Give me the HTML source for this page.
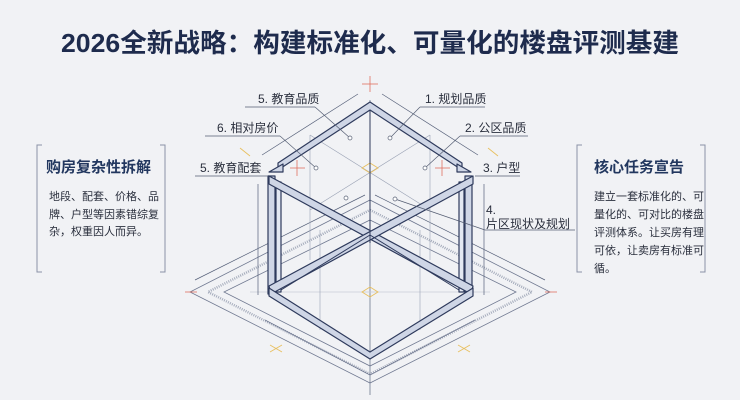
<!DOCTYPE html>
<html><head><meta charset="utf-8"><style>
body{margin:0;width:740px;height:400px;overflow:hidden;background:#f1f2f5;font-family:"Liberation Sans","Noto Sans CJK SC",sans-serif;}
</style></head><body>
<svg width="740" height="400" viewBox="0 0 740 400" xmlns="http://www.w3.org/2000/svg" style="position:absolute;left:0;top:0">
<rect width="740" height="400" fill="#f1f2f5"/>
<text x="370" y="52" text-anchor="middle" font-family="Liberation Sans, Noto Sans CJK SC, sans-serif" font-size="26" font-weight="bold" fill="#1e2b4d" textLength="618" lengthAdjust="spacingAndGlyphs">2026全新战略：构建标准化、可量化的楼盘评测基建</text>

<!-- ground diamonds -->
<g fill="none" stroke="#6f7890" stroke-width="0.8">
<polygon points="370,200 550,292 370,383 190,292"/>
<polygon points="370,210 532,292 370,374 208,292" stroke-dasharray="1 1.2" stroke-width="2.5" stroke="#a4abbb"/>
<polygon points="370,220 516,292 370,366 224,292"/>
<line x1="370" y1="100" x2="370" y2="395"/>
<line x1="250" y1="292" x2="490" y2="292" stroke="#c8ccd6"/>
<line x1="265" y1="320" x2="370" y2="375"/>
<line x1="475" y1="320" x2="370" y2="375"/>
</g>
<!-- dimension lines -->
<g stroke="#566079" stroke-width="0.7" fill="none">
<line x1="262" y1="155" x2="358" y2="94"/>
<line x1="382" y1="94" x2="478" y2="155"/>
<line x1="258" y1="184" x2="258" y2="295"/>
<line x1="484" y1="184" x2="484" y2="295"/>
<line x1="195" y1="280" x2="365" y2="195"/>
<line x1="545" y1="280" x2="375" y2="195"/>
</g>
<!-- thin construction lines -->
<g stroke="#9aa2b4" stroke-width="0.6" fill="none">
<line x1="310" y1="135" x2="430" y2="210"/>
<line x1="430" y1="135" x2="310" y2="210"/>
<line x1="310" y1="135" x2="310" y2="260"/>
<line x1="430" y1="135" x2="430" y2="260"/>
<line x1="320" y1="330" x2="320" y2="230"/>
<line x1="420" y1="330" x2="420" y2="230"/>
</g>
<!-- red/yellow markers -->
<g stroke="#e07060" stroke-width="0.8">
<line x1="370" y1="76" x2="370" y2="92"/><line x1="362" y1="84" x2="378" y2="84"/>
<line x1="290" y1="168" x2="305" y2="168"/><line x1="297" y1="160" x2="297" y2="176"/>
<line x1="435" y1="168" x2="450" y2="168"/><line x1="442" y1="160" x2="442" y2="176"/>
<line x1="185" y1="292" x2="197" y2="292"/><line x1="545" y1="292" x2="557" y2="292"/>
</g>
<g stroke="#e8c060" stroke-width="0.9">
<line x1="270" y1="345" x2="282" y2="352"/><line x1="270" y1="352" x2="282" y2="345"/>
<line x1="458" y1="345" x2="470" y2="352"/><line x1="458" y1="352" x2="470" y2="345"/>
<line x1="240" y1="148" x2="250" y2="156"/><line x1="488" y1="148" x2="498" y2="156"/>
<polygon points="370,163 378,168 370,173 362,168" fill="none"/>
<polygon points="370,287 378,292 370,297 362,292" fill="none"/>
</g>

<!-- cube frame -->
<g stroke="#2e3a5c" stroke-width="1.2" fill="#cfd6e6" stroke-linejoin="round">
<polygon points="370,102 278,163 278,170 370,110 462,170 462,163"/>
<rect x="268" y="176" width="7" height="118"/>
<rect x="465" y="176" width="7" height="118"/>
<rect x="276" y="182" width="5" height="110" fill="#e3e8f2"/>
<rect x="459" y="182" width="5" height="110" fill="#e3e8f2"/>
<polygon points="269,176 269,184 471,294 473,286"/>
<polygon points="473,176 473,184 271,294 269,286"/>
<polygon points="269,288 370,352 473,288 473,296 370,359 269,296"/>
<polygon points="269,172 283,172 283,164 269,172"/>
<polygon points="471,172 457,172 457,164 471,172"/>
</g>
<g stroke="#2e3a5c" stroke-width="1" fill="none">
<line x1="370" y1="110" x2="370" y2="243"/>
<line x1="281" y1="290" x2="370" y2="235" />
<line x1="459" y1="290" x2="370" y2="235" />
</g>

<!-- leader lines & dots -->
<g stroke="#555e73" stroke-width="0.7" fill="#fff">
<line x1="245" y1="107" x2="315" y2="107"/><line x1="315" y1="107" x2="350" y2="138"/>
<line x1="420" y1="107" x2="485" y2="107"/><line x1="420" y1="107" x2="390" y2="138"/>
<line x1="205" y1="136" x2="280" y2="136"/><line x1="280" y1="136" x2="316" y2="168"/>
<line x1="460" y1="136" x2="528" y2="136"/><line x1="460" y1="136" x2="425" y2="168"/>
<line x1="195" y1="176" x2="268" y2="176"/>
<line x1="475" y1="176" x2="520" y2="176"/>
<line x1="395" y1="199" x2="485" y2="230"/><line x1="485" y1="230" x2="575" y2="230"/>
<circle cx="350" cy="138" r="2"/><circle cx="390" cy="138" r="2"/>
<circle cx="316" cy="168" r="2"/><circle cx="425" cy="168" r="2"/>
<circle cx="346" cy="198" r="2"/><circle cx="395" cy="199" r="2"/>
</g>
<g font-family="Liberation Sans, Noto Sans CJK SC, sans-serif" font-size="12" fill="#2a2f3d">
<text x="258" y="103">5. 教育品质</text>
<text x="425" y="103">1. 规划品质</text>
<text x="217" y="132">6. 相对房价</text>
<text x="465" y="132">2. 公区品质</text>
<text x="200" y="172">5. 教育配套</text>
<text x="483" y="172">3. 户型</text>
<text x="486" y="214">4.</text>
<text x="486" y="228">片区现状及规划</text>
</g>

<g stroke="#8a92a6" stroke-width="1" fill="none">
<polyline points="42,145 37,145 37,272 42,272"/>
<polyline points="160,145 165,145 165,272 160,272"/>
<polyline points="582,145 577,145 577,272 582,272"/>
<polyline points="700,145 705,145 705,272 700,272"/>
</g>
<g font-family="Liberation Sans, Noto Sans CJK SC, sans-serif">
<text x="46" y="172" font-size="15" font-weight="bold" fill="#22375f">购房复杂性拆解</text>
<g font-size="11" fill="#2a2f3d">
<text x="49" y="200">地段、配套、价格、品</text>
<text x="49" y="218">牌、户型等因素错综复</text>
<text x="49" y="235">杂，权重因人而异。</text>
</g>
<text x="594" y="172" font-size="15" font-weight="bold" fill="#22375f">核心任务宣告</text>
<g font-size="11" fill="#2a2f3d">
<text x="594" y="200">建立一套标准化的、可</text>
<text x="594" y="218">量化的、可对比的楼盘</text>
<text x="594" y="236">评测体系。让买房有理</text>
<text x="594" y="254">可依，让卖房有标准可</text>
<text x="594" y="272">循。</text>
</g>
</g>
</svg>
</body></html>
